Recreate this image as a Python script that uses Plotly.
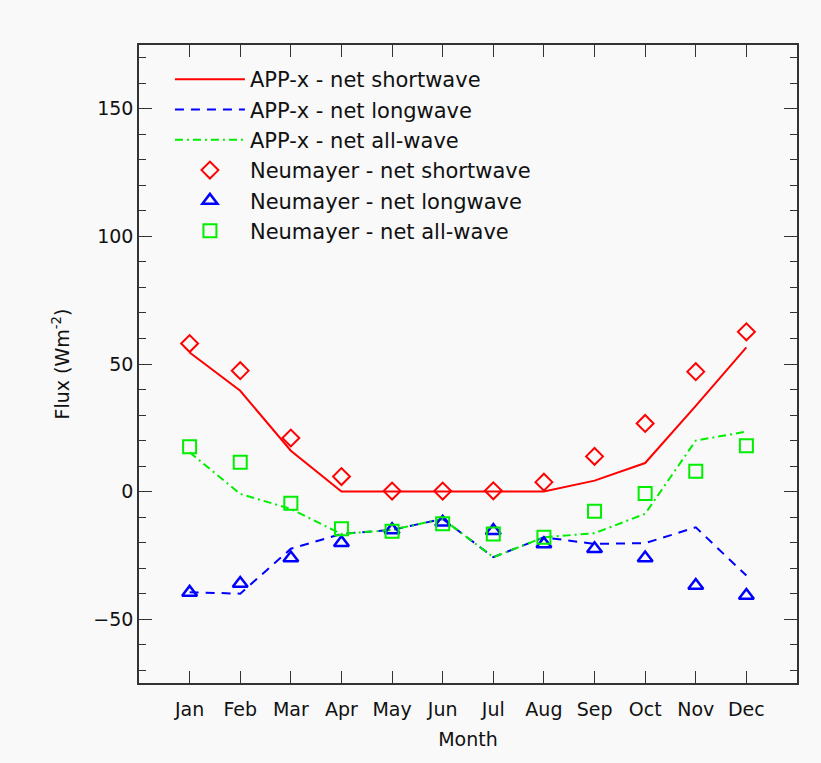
import plotly.graph_objects as go

months = ["Jan", "Feb", "Mar", "Apr", "May", "Jun", "Jul", "Aug", "Sep", "Oct", "Nov", "Dec"]
month_idx = list(range(1, 13))

app_sw = [54.5, 39.5, 16.0, 0.0, 0.0, 0.0, 0.0, 0.0, 4.3, 11.2, 33.6, 56.5]
app_lw = [-39.4, -40.0, -22.4, -16.6, -15.0, -10.7, -25.7, -17.9, -20.5, -20.2, -14.0, -32.9]
app_aw = [15.4, -0.9, -6.8, -16.6, -15.0, -10.7, -25.7, -17.9, -16.3, -8.7, 20.0, 23.5]

neu_sw = [58.0, 47.4, 21.0, 5.9, 0.2, 0.2, 0.3, 3.7, 13.8, 26.7, 47.0, 62.6]
neu_lw = [-39.5, -36.0, -26.0, -20.0, -15.0, -12.0, -15.3, -20.5, -22.4, -26.0, -36.8, -40.7]
neu_aw = [17.6, 11.5, -4.6, -14.6, -15.5, -12.6, -16.6, -17.9, -7.7, -0.7, 8.0, 18.0]

RED = "#ff0000"
BLUE = "#0000ff"
GREEN = "#00ee00"
FONT = "DejaVu Sans"

fig = go.Figure()
fig.add_trace(go.Scatter(x=month_idx, y=app_sw, mode="lines", name="APP-x - net shortwave",
                         line=dict(color=RED, width=2)))
fig.add_trace(go.Scatter(x=month_idx, y=app_lw, mode="lines", name="APP-x - net longwave",
                         line=dict(color=BLUE, width=2, dash="9px,7px")))
fig.add_trace(go.Scatter(x=month_idx, y=app_aw, mode="lines", name="APP-x - net all-wave",
                         line=dict(color=GREEN, width=2, dash="8px,4px,2px,4px")))
fig.add_trace(go.Scatter(x=month_idx, y=neu_sw, mode="markers", name="Neumayer - net shortwave",
                         marker=dict(symbol="diamond-open", size=13, color=RED, line=dict(width=2, color=RED))))
fig.add_trace(go.Scatter(x=month_idx, y=neu_lw, mode="markers", name="Neumayer - net longwave",
                         marker=dict(symbol="triangle-up-open", size=13, color=BLUE, line=dict(width=2.5, color=BLUE))))
fig.add_trace(go.Scatter(x=month_idx, y=neu_aw, mode="markers", name="Neumayer - net all-wave",
                         marker=dict(symbol="square-open", size=13, color=GREEN, line=dict(width=2, color=GREEN))))

fig.update_layout(
    width=821, height=763,
    margin=dict(l=139, r=24, t=45, b=80),
    paper_bgcolor="#f9f9f9",
    plot_bgcolor="#f9f9f9",
    font=dict(family=FONT, size=19, color="#111111"),
    showlegend=True,
    legend=dict(x=0.047, y=0.978, xanchor="left", yanchor="top",
                bgcolor="rgba(0,0,0,0)", font=dict(family=FONT, size=21, color="#111111"),
                itemwidth=70, tracegroupgap=0),
    xaxis=dict(range=[0, 13], tickmode="array", tickvals=month_idx, ticktext=months,
               ticks="inside", ticklen=12, tickwidth=1, tickcolor="#333333",
               ticklabelstandoff=8,
               showline=True, linecolor="#333333", linewidth=1.5, mirror="allticks",
               showgrid=False, zeroline=False,
               title=dict(text="Month", standoff=14, font=dict(size=19))),
    yaxis=dict(range=[-75, 175], tickmode="linear", tick0=0, dtick=50,
               ticks="inside", ticklen=13, tickwidth=1, tickcolor="#333333",
               minor=dict(dtick=10, tick0=0, ticks="inside", ticklen=7, tickcolor="#333333"),
               showline=True, linecolor="#333333", linewidth=1.5, mirror="allticks",
               showgrid=False, zeroline=False,
               title=dict(text="Flux (Wm<sup>-2</sup>)", standoff=19, font=dict(size=19))),
)

fig.write_html("out.html")
